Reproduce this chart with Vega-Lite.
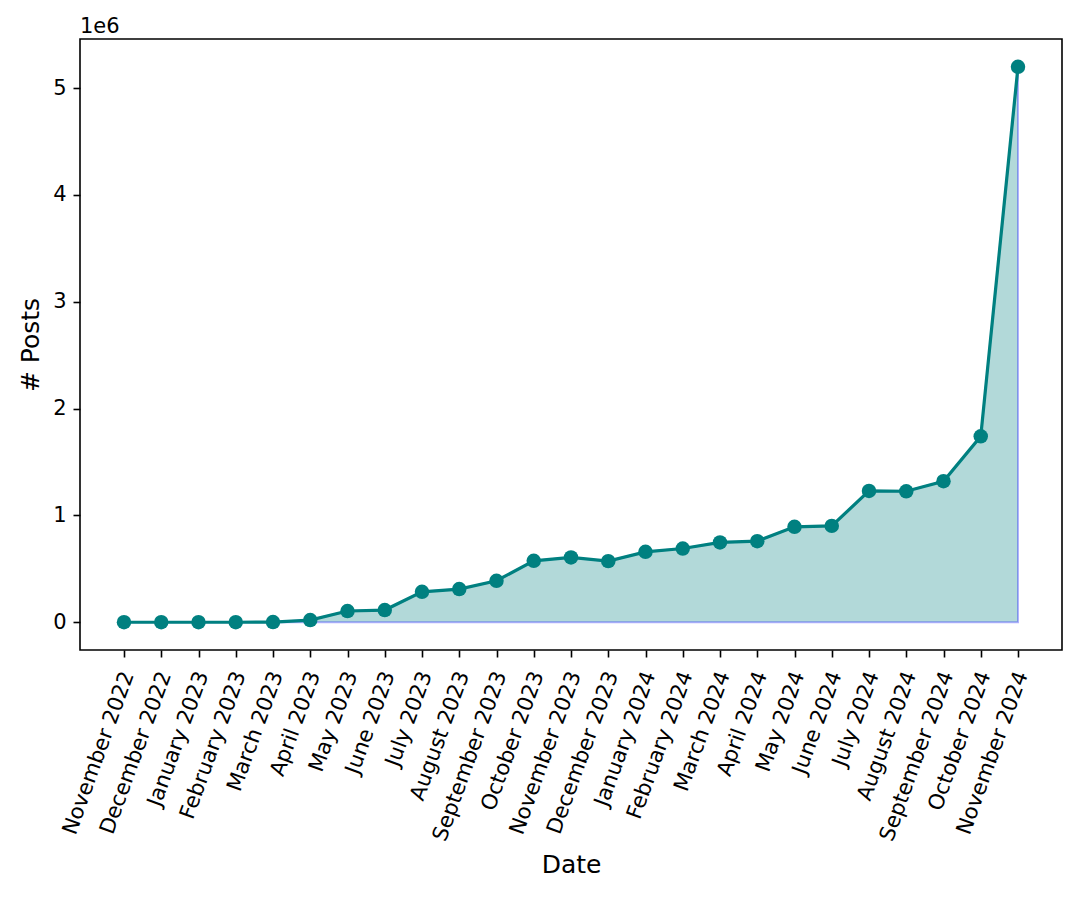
{
  "$schema": "https://vega.github.io/schema/vega-lite/v6.json",
  "width": 982,
  "height": 611,
  "autosize": {"type": "none"},
  "padding": {"left": 80, "top": 39, "right": 17, "bottom": 247},
  "background": "white",
  "config": {
    "font": "DejaVu Sans",
    "view": {"stroke": "black", "strokeWidth": 1.6},
    "axis": {"grid": false, "domain": false, "tickColor": "black", "tickWidth": 1.6, "tickSize": 7, "labelColor": "black", "titleColor": "black", "labelFont": "DejaVu Sans", "titleFont": "DejaVu Sans", "titleFontWeight": "normal"}
  },
  "title": {"text": "1e6", "anchor": "start", "frame": "group", "fontSize": 21, "fontWeight": "normal", "font": "DejaVu Sans", "color": "black", "offset": 2},
  "data": {
    "values": [
      {"month": "November 2022", "posts": 0},
      {"month": "December 2022", "posts": 0},
      {"month": "January 2023", "posts": 0},
      {"month": "February 2023", "posts": 0},
      {"month": "March 2023", "posts": 1000},
      {"month": "April 2023", "posts": 20000},
      {"month": "May 2023", "posts": 105000},
      {"month": "June 2023", "posts": 114000},
      {"month": "July 2023", "posts": 285000},
      {"month": "August 2023", "posts": 310000},
      {"month": "September 2023", "posts": 388000},
      {"month": "October 2023", "posts": 575000},
      {"month": "November 2023", "posts": 607000},
      {"month": "December 2023", "posts": 572000},
      {"month": "January 2024", "posts": 659000},
      {"month": "February 2024", "posts": 690000},
      {"month": "March 2024", "posts": 747000},
      {"month": "April 2024", "posts": 759000},
      {"month": "May 2024", "posts": 893000},
      {"month": "June 2024", "posts": 902000},
      {"month": "July 2024", "posts": 1229000},
      {"month": "August 2024", "posts": 1226000},
      {"month": "September 2024", "posts": 1320000},
      {"month": "October 2024", "posts": 1740000},
      {"month": "November 2024", "posts": 5200000}
    ]
  },
  "encoding": {
    "x": {
      "field": "month", "type": "ordinal", "sort": null,
      "scale": {"type": "point", "padding": 0, "range": [44, 938]},
      "axis": {"title": "Date", "titleFontSize": 25, "titlePadding": 9, "labelAngle": -70, "labelAlign": "right", "labelBaseline": "middle", "labelFontSize": 21.3, "labelPadding": 15, "labelOffset": 4, "labelOverlap": false, "labelBound": false}
    },
    "y": {
      "field": "posts", "type": "quantitative",
      "scale": {"domain": [-260000, 5460000], "nice": false, "zero": false},
      "axis": {"title": "# Posts", "titleFontSize": 25, "titlePadding": 9, "values": [0, 1000000, 2000000, 3000000, 4000000, 5000000], "labelExpr": "format(datum.value / 1000000, 'd')", "labelFontSize": 21, "labelPadding": 7}
    }
  },
  "layer": [
    {"mark": {"type": "area", "color": "teal", "fillOpacity": 0.3, "stroke": "blue", "strokeOpacity": 0.3, "strokeWidth": 2}, "encoding": {"y2": {"datum": 0}}},
    {"mark": {"type": "line", "color": "teal", "strokeWidth": 3.2}, "encoding": {}},
    {"mark": {"type": "point", "filled": true, "color": "teal", "opacity": 1, "size": 210}, "encoding": {}}
  ]
}
